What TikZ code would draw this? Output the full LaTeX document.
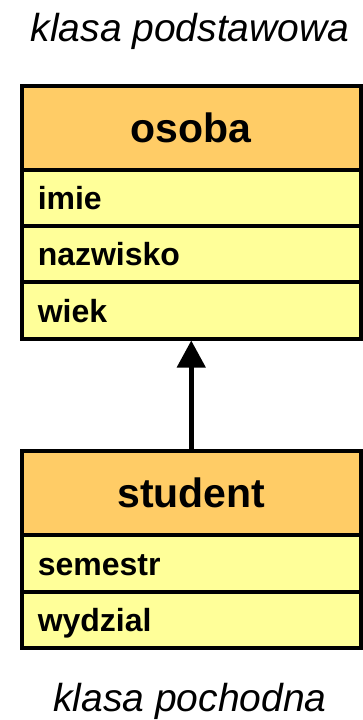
\documentclass[tikz,border=0pt]{standalone}
\usepackage{fontspec}
\setmainfont{Liberation Sans}
\usetikzlibrary{arrows.meta}
\definecolor{hdr}{HTML}{FFCC66}
\definecolor{rowc}{HTML}{FFFF99}
\begin{document}
\begin{tikzpicture}[x=1pt,y=-1pt,
  box/.style={draw, line width=4pt, minimum width=338.5pt, inner sep=0pt},
  header/.style={box, fill=hdr, font=\fontsize{41}{41}\selectfont\bfseries, text height=31pt, text depth=1.5pt},
  attr/.style={box, fill=rowc, font=\fontsize{32}{32}\selectfont\bfseries, text width=307pt, align=left, text height=25pt, text depth=1.5pt},
  caption/.style={font=\fontsize{39}{39}\selectfont\itshape, anchor=base, inner sep=0pt},
  inherit/.style={-{Triangle[width=28pt,length=27pt]}, line width=4.5pt}]
\useasboundingbox (0,0) rectangle (363,720);
\node[caption] (top) at (190,41) {klasa podstawowa};
\node[header, minimum height=83.5pt] (osoba) at (191.25,127.75) {osoba};
\node[attr, minimum height=56pt] (imie) at (191.25,197.5) {imie};
\node[attr, minimum height=56.5pt] (nazwisko) at (191.25,253.75) {nazwisko};
\node[attr, minimum height=56.5pt] (wiek) at (191.25,310.25) {wiek};
\node[header, minimum height=84pt] (student) at (191.25,493) {student};
\node[attr, minimum height=56.5pt] (semestr) at (191.25,563.25) {semestr};
\node[attr, minimum height=56.5pt] (wydzial) at (191.25,619.75) {wydzial};
\node[caption] (bottom) at (190,711) {klasa pochodna};
\draw[inherit] (student.north) -- (wiek.south);
\end{tikzpicture}
\end{document}
